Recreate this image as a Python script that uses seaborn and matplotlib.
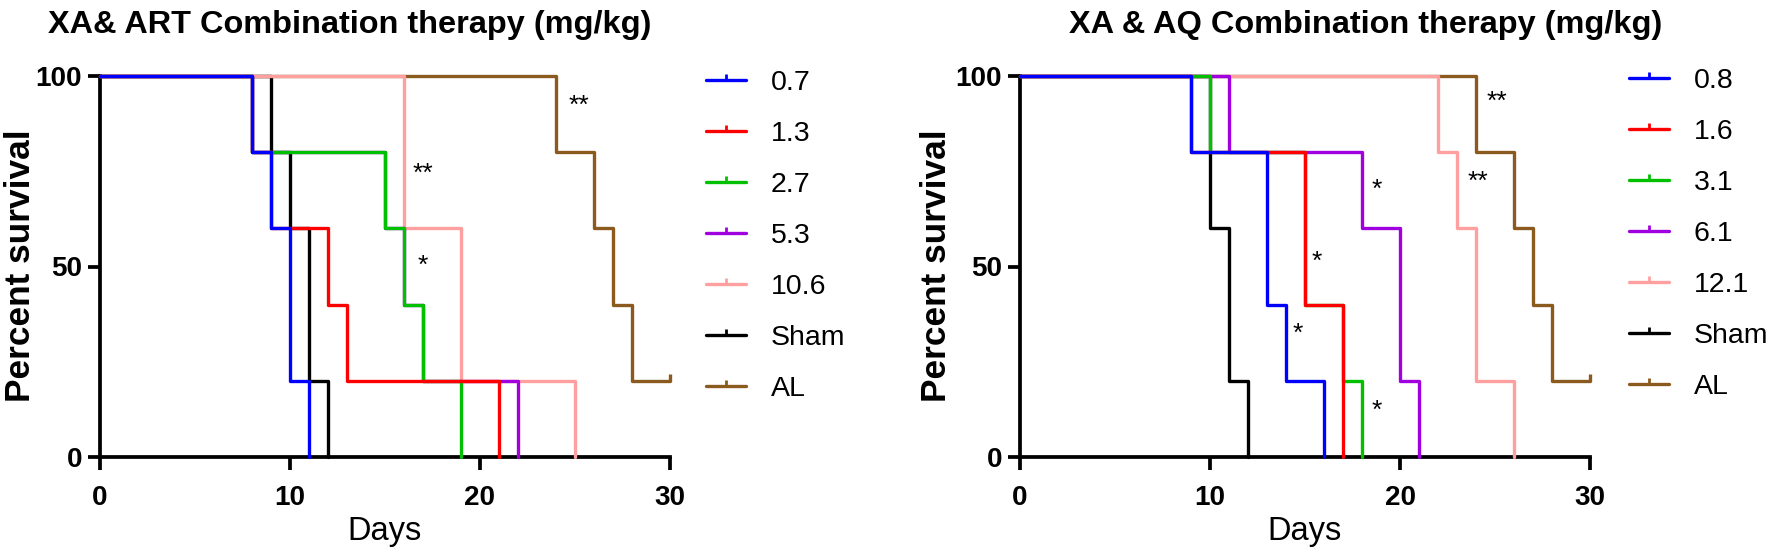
import numpy as np
import pandas as pd
import seaborn as sns
import matplotlib.pyplot as plt
from matplotlib.path import Path
from matplotlib.lines import Line2D
from matplotlib import font_manager

# XA & ART panel (left)
art_labels = ["0.7", "1.3", "2.7", "5.3", "10.6", "Sham", "AL"]
art_days = [
    [0, 8, 9, 10, 11],
    [0, 8, 9, 12, 13, 21],
    [0, 8, 15, 16, 17, 19],
    [0, 8, 15, 16, 17, 22],
    [0, 16, 19, 25],
    [0, 9, 10, 11, 12],
    [0, 24, 26, 27, 28, 30],
]
art_surv = [
    [100, 80, 60, 20, 0],
    [100, 80, 60, 40, 20, 0],
    [100, 80, 60, 40, 20, 0],
    [100, 80, 60, 40, 20, 0],
    [100, 60, 20, 0],
    [100, 80, 60, 20, 0],
    [100, 80, 60, 40, 20, 20],
]
art_stars = ["**", "**", "*"]
art_star_x = [25.2, 17.0, 17.0]
art_star_y = [94, 76, 52]

# XA & AQ panel (right)
aq_labels = ["0.8", "1.6", "3.1", "6.1", "12.1", "Sham", "AL"]
aq_days = [
    [0, 9, 13, 14, 16],
    [0, 9, 15, 17],
    [0, 10, 15, 17, 18],
    [0, 11, 18, 20, 21],
    [0, 22, 23, 24, 26],
    [0, 10, 11, 12],
    [0, 24, 26, 27, 28, 30],
]
aq_surv = [
    [100, 80, 40, 20, 0],
    [100, 80, 40, 0],
    [100, 80, 40, 20, 0],
    [100, 80, 60, 20, 0],
    [100, 80, 60, 20, 0],
    [100, 60, 20, 0],
    [100, 80, 60, 40, 20, 20],
]
aq_stars = ["**", "**", "*", "*", "*", "*"]
aq_star_x = [25.1, 24.1, 18.8, 15.6, 14.6, 18.8]
aq_star_y = [95, 74, 72, 53, 34, 14]

colors = ["#0000FF", "#FF0000", "#00C000", "#A000E0", "#FFA0A0", "#000000", "#8B5A1E"]

sns.set_style("ticks")
names = {f.name for f in font_manager.fontManager.ttflist}
narrow = "Liberation Sans Narrow" if "Liberation Sans Narrow" in names else "Liberation Sans"
k = 1.0 if narrow == "Liberation Sans Narrow" else 0.82
plt.rcParams["font.family"] = ["Liberation Sans", "DejaVu Sans"]
plt.rcParams.update({"text.color": "black", "axes.edgecolor": "black",
                     "xtick.color": "black", "ytick.color": "black"})

# censor tick: short vertical stroke going up from the line
tick = Path([(0, 0), (0, 1)], [Path.MOVETO, Path.LINETO])

fig = plt.figure(figsize=(17.7, 5.53), dpi=100)
W, H = 1770, 553


def panel(left, days, surv, labels, stars, sx, sy, title, title_x, leg_x, leg_top, ylab_x):
    ax = fig.add_axes([left / W, 1 - 457 / H, 570 / W, 381 / H])
    for i in reversed(range(len(labels))):
        df = pd.DataFrame({"Days": days[i], "Percent survival": surv[i]})
        sns.lineplot(data=df, x="Days", y="Percent survival", drawstyle="steps-post",
                     color=colors[i], lw=2.4, ax=ax, clip_on=False, zorder=3 + (7 - i))
    # censored end point of AL
    ax.plot(days[6][-1], surv[6][-1], marker=tick, ms=10, mew=2.4, color=colors[6],
            ls="none", clip_on=False, zorder=3)
    for s, x, y in zip(stars, sx, sy):
        ax.annotate(s, (x, y), xytext=(0, -10), textcoords="offset points",
                    ha="center", va="baseline", fontsize=19)
    ax.set_xlim(0, 30)
    ax.set_ylim(0, 100)
    ax.set_xticks([0, 10, 20, 30])
    ax.set_yticks([0, 50, 100])
    ax.set_xlabel("")
    ax.set_ylabel("")
    for side in ["top", "right"]:
        ax.spines[side].set_visible(False)
    for side in ["left", "bottom"]:
        ax.spines[side].set_linewidth(2.7)
    ax.tick_params(direction="out", length=9, width=2.7)
    ax.tick_params(axis="x", pad=11)
    ax.tick_params(axis="y", pad=4)
    for lab in ax.get_xticklabels() + ax.get_yticklabels():
        lab.set_fontfamily(narrow)
        lab.set_fontweight("bold")
        lab.set_fontsize(24.5 * k)
    fig.text(title_x / W, 1 - 33 / H, title, ha="center", va="baseline", family=narrow,
             weight="bold", fontsize=28.5 * k)
    fig.text(ylab_x / W, 1 - 266 / H, "Percent survival", rotation=90, ha="center",
             va="center", family=narrow, weight="bold", fontsize=31 * k)
    fig.text((left + 285) / W, 1 - 540 / H, "Days", ha="center", va="baseline", fontsize=23.5)
    handles = [Line2D([], [], color=c, lw=2.4, marker=tick, ms=8, mew=2) for c in colors]
    ax.legend(handles, labels, loc="upper left", bbox_to_anchor=(leg_x / W, 1 - leg_top / H),
              bbox_transform=fig.transFigure, frameon=False, fontsize=20.5,
              handlelength=1.4, handletextpad=0.88, labelspacing=0.88,
              borderpad=0, borderaxespad=0, numpoints=1)
    return ax


panel(100, art_days, art_surv, art_labels, art_stars, art_star_x, art_star_y,
      "XA& ART Combination therapy (mg/kg)", 350, 706, 70, 21)
panel(1020, aq_days, aq_surv, aq_labels, aq_stars, aq_star_x, aq_star_y,
      "XA & AQ Combination therapy (mg/kg)", 1366, 1629, 68, 937)

fig.savefig("out.png", dpi=100)
